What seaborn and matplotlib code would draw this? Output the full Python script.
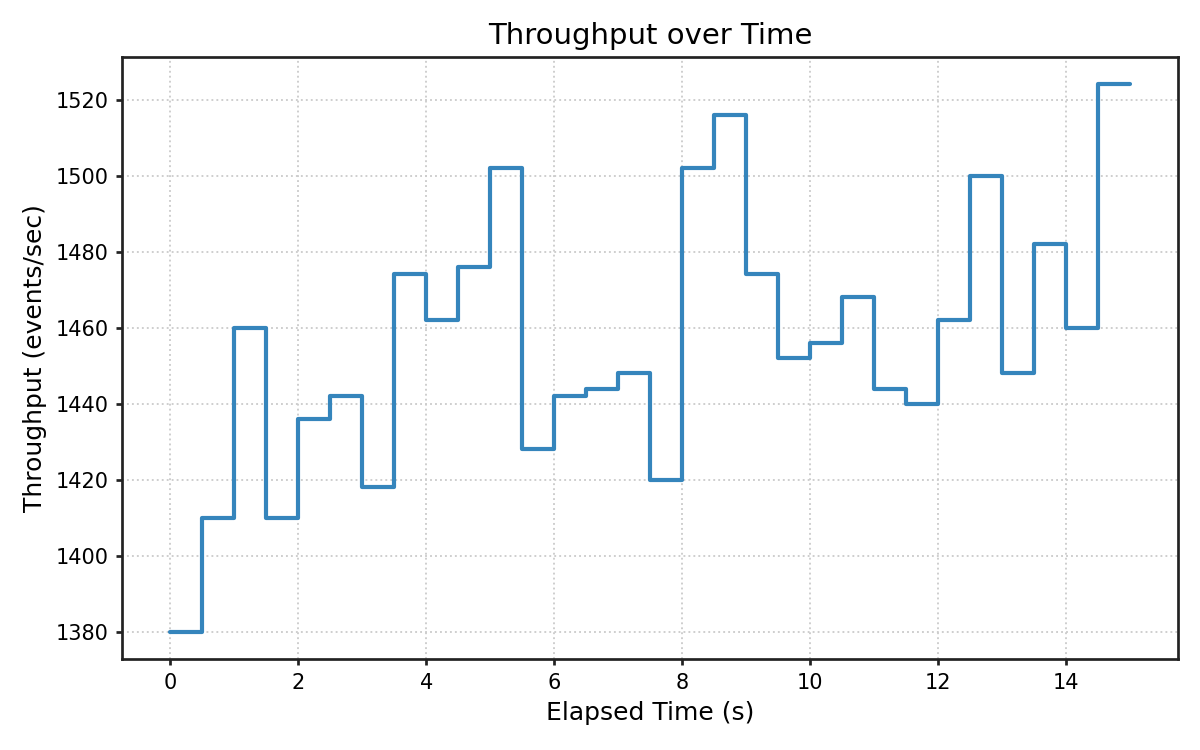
import matplotlib
matplotlib.use("Agg")
import matplotlib.pyplot as plt
import seaborn as sns
import pandas as pd

time_s = [0, 0.5, 1, 1.5, 2, 2.5, 3, 3.5, 4, 4.5, 5, 5.5, 6, 6.5, 7, 7.5,
          8, 8.5, 9, 9.5, 10, 10.5, 11, 11.5, 12, 12.5, 13, 13.5, 14, 14.5, 15]
throughput = [1380, 1410, 1460, 1410, 1436, 1442, 1418, 1474, 1462, 1476, 1502,
              1428, 1442, 1444, 1448, 1420, 1502, 1516, 1474, 1452, 1456, 1468,
              1444, 1440, 1462, 1500, 1448, 1482, 1460, 1524, 1524]

sns.set_style("ticks")
plt.rcParams["font.family"] = ["DejaVu Sans"]
plt.rcParams.update({
    "axes.linewidth": 1.3,
    "axes.edgecolor": "#222222",
    "xtick.major.width": 1.3,
    "ytick.major.width": 1.3,
    "xtick.major.size": 3,
    "ytick.major.size": 3,
    "xtick.color": "#222222",
    "ytick.color": "#222222",
    "xtick.labelcolor": "black",
    "ytick.labelcolor": "black",
    "text.color": "black",
    "axes.labelcolor": "black",
})

df = pd.DataFrame({"t": time_s, "v": throughput})

fig, ax = plt.subplots(figsize=(8, 5), dpi=150)
sns.lineplot(data=df, x="t", y="v", ax=ax, drawstyle="steps-post",
             color="#3585bc", linewidth=2.0)
ax.grid(True, linestyle=":", color="#cccccc", linewidth=0.9)
ax.set_axisbelow(True)
for s in ax.spines.values():
    s.set_visible(True)
ax.set_title("Throughput over Time", fontsize=14, color="black")
ax.set_xlabel("Elapsed Time (s)", fontsize=12)
ax.set_ylabel("Throughput (events/sec)", fontsize=12)
ax.tick_params(labelsize=10)
fig.subplots_adjust(left=0.102, right=0.982, top=0.924, bottom=0.121)
fig.savefig("out.png", dpi=150)
